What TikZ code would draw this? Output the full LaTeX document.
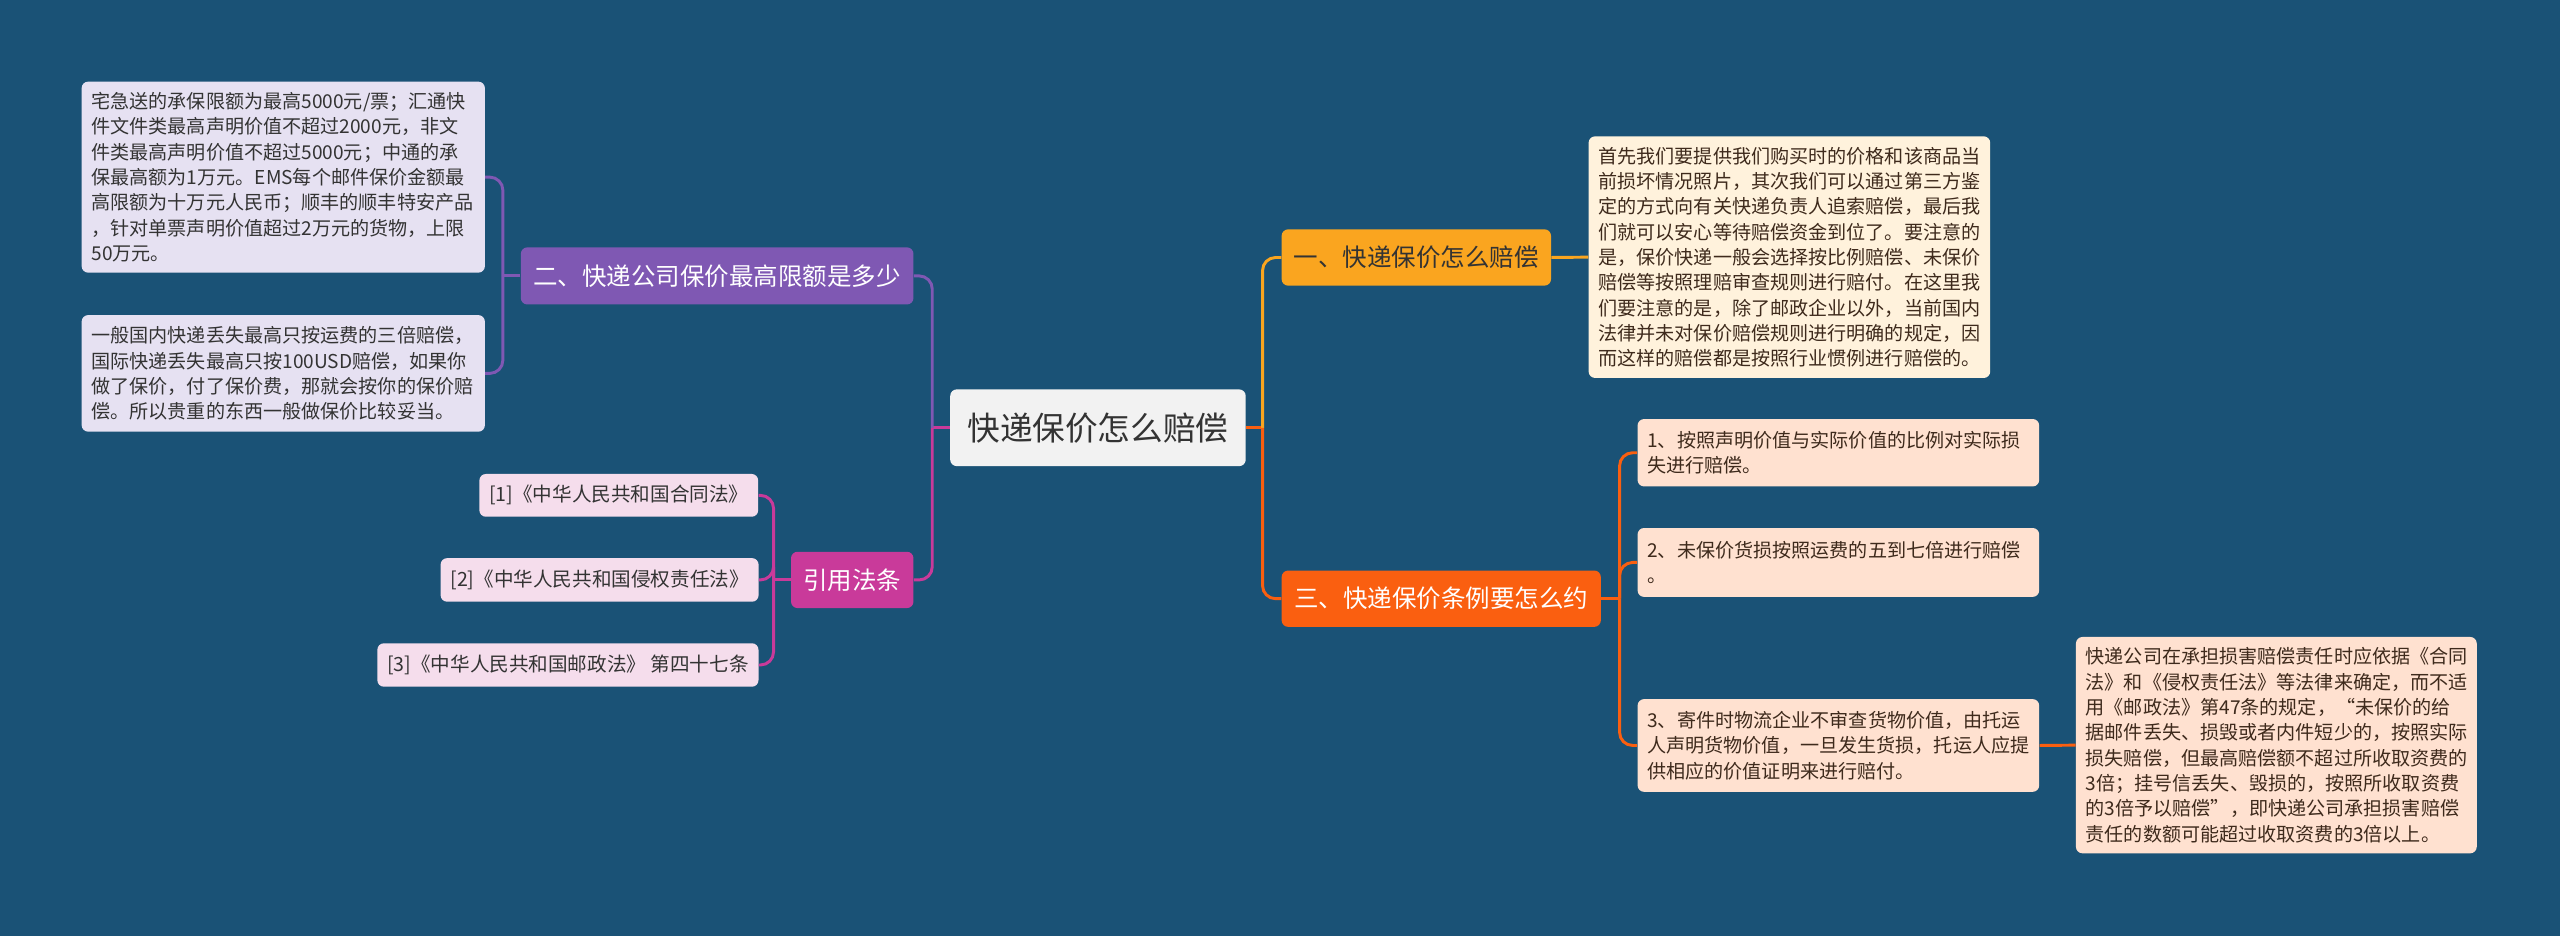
\documentclass[tikz,border=0pt]{standalone}
\usepackage{fontspec}
\setmainfont{Noto Sans CJK SC}
\definecolor{bg}{HTML}{1A5276}
\definecolor{rootfill}{HTML}{F2F2F2}
\definecolor{ora}{HTML}{FAA51F}
\definecolor{red}{HTML}{FA5F10}
\definecolor{pur}{HTML}{7F58B3}
\definecolor{mag}{HTML}{C93A9A}
\definecolor{cream}{HTML}{FFF2DC}
\definecolor{peach}{HTML}{FFE1D0}
\definecolor{lav}{HTML}{E6E1F2}
\definecolor{pink}{HTML}{F5DDEC}
\definecolor{ink}{HTML}{333333}
\definecolor{brown}{HTML}{3E2A1C}
\tikzset{
  box/.style={rounded corners=4pt, inner ysep=0pt, inner xsep=6pt, anchor=center},
  leaf/.style={box, align=left, font=\fontsize{11.7}{15.5}\selectfont},
  branch/.style={box, align=center, font=\fontsize{15}{18}\selectfont},
  cite/.style={box, align=center, fill=pink, text=ink, font=\fontsize{12}{15}\selectfont},
  conn/.style={line width=1.8pt, rounded corners=8pt},
}
\begin{document}
\begin{tikzpicture}[x=1pt,y=-1pt]
\fill[bg] (0,0) rectangle (1568,573.3);
\useasboundingbox (0,0) rectangle (1568,573.3);

% root and branches
\node[box, fill=rootfill, text=ink, font=\fontsize{20}{24}\selectfont, minimum width=181pt, minimum height=47pt] (root) at (672.5,262) {快递保价怎么赔偿};
\node[branch, fill=ora, text=ink, minimum width=165pt, minimum height=34.5pt] (b1) at (867.5,157.7) {一、快递保价怎么赔偿};
\node[branch, fill=red, text=white, minimum width=195.5pt, minimum height=34.5pt] (b3) at (882.75,366.7) {三、快递保价条例要怎么约};
\node[branch, fill=pur, text=white, minimum width=240.5pt, minimum height=35pt] (b2) at (439.25,169) {二、快递公司保价最高限额是多少};
\node[branch, fill=mag, text=white, minimum width=75pt, minimum height=34.5pt] (b4) at (522,355.2) {引用法条};

% leaves right
\node[leaf, fill=cream, text=brown, text width=234pt, minimum height=148pt] (l1) at (1096,157.5) {首先我们要提供我们购买时的价格和该商品当\\前损坏情况照片，其次我们可以通过第三方鉴\\定的方式向有关快递负责人追索赔偿，最后我\\们就可以安心等待赔偿资金到位了。要注意的\\是，保价快递一般会选择按比例赔偿、未保价\\赔偿等按照理赔审查规则进行赔付。在这里我\\们要注意的是，除了邮政企业以外，当前国内\\法律并未对保价赔偿规则进行明确的规定，因\\而这样的赔偿都是按照行业惯例进行赔偿的。};
\node[leaf, fill=peach, text=brown, text width=234pt, minimum height=41.3pt] (l3a) at (1126,277.3) {1、按照声明价值与实际价值的比例对实际损\\失进行赔偿。};
\node[leaf, fill=peach, text=brown, text width=234pt, minimum height=42.2pt] (l3b) at (1126,344.5) {2、未保价货损按照运费的五到七倍进行赔偿\\。};
\node[leaf, fill=peach, text=brown, text width=234pt, minimum height=56.8pt] (l3c) at (1126,456.6) {3、寄件时物流企业不审查货物价值，由托运\\人声明货物价值，一旦发生货损，托运人应提\\供相应的价值证明来进行赔付。};
\node[leaf, fill=peach, text=brown, text width=233.5pt, minimum height=132.5pt] (l3d) at (1394.25,456.4) {快递公司在承担损害赔偿责任时应依据《合同\\法》和《侵权责任法》等法律来确定，而不适\\用《邮政法》第47条的规定，“未保价的给\\据邮件丢失、损毁或者内件短少的，按照实际\\损失赔偿，但最高赔偿额不超过所收取资费的\\3倍；挂号信丢失、毁损的，按照所收取资费\\的3倍予以赔偿”，即快递公司承担损害赔偿\\责任的数额可能超过收取资费的3倍以上。};

% leaves left
\node[leaf, fill=lav, text=ink, text width=235pt, minimum height=117pt] (l2a) at (173.5,108.5) {宅急送的承保限额为最高5000元/票；汇通快\\件文件类最高声明价值不超过2000元，非文\\件类最高声明价值不超过5000元；中通的承\\保最高额为1万元。EMS每个邮件保价金额最\\高限额为十万元人民币；顺丰的顺丰特安产品\\，针对单票声明价值超过2万元的货物，上限\\50万元。};
\node[leaf, fill=lav, text=ink, text width=235pt, minimum height=71.4pt] (l2b) at (173.5,228.7) {一般国内快递丢失最高只按运费的三倍赔偿，\\国际快递丢失最高只按100USD赔偿，如果你\\做了保价，付了保价费，那就会按你的保价赔\\偿。所以贵重的东西一般做保价比较妥当。};
\node[cite, minimum width=167pt, minimum height=26.2pt] (l4a) at (379,303.4) {[1]《中华人民共和国合同法》};
\node[cite, minimum width=190.5pt, minimum height=26.7pt] (l4b) at (367.25,355.2) {[2]《中华人民共和国侵权责任法》};
\node[cite, minimum width=229.3pt, minimum height=26.6pt] (l4c) at (347.85,407.3) {[3]《中华人民共和国邮政法》 第四十七条};

% spine coordinates
\coordinate (rs) at (773.3,262);
\coordinate (ls) at (571,262);
\coordinate (s2) at (308,169);
\coordinate (s4) at (473.8,355.2);
\coordinate (s3) at (992,366.7);

% connectors
\draw[conn, red] (root.east) -- (rs);
\draw[conn, ora] (rs) |- (b1.west);
\draw[conn, red] (rs) |- (b3.west);
\draw[conn, mag] (root.west) -- (ls);
\draw[conn, pur] (ls) |- (b2.east);
\draw[conn, mag] (ls) |- (b4.east);
\draw[conn, ora] (b1.east) -- (l1.west);
\draw[conn, red] (b3.east) -- (s3);
\draw[conn, red] (s3) |- (l3a.west);
\draw[conn, red] (s3) |- (l3b.west);
\draw[conn, red] (s3) |- (l3c.west);
\draw[conn, red] (l3c.east) -- (l3d.west);
\draw[conn, pur] (b2.west) -- (s2);
\draw[conn, pur] (s2) |- (l2a.east);
\draw[conn, pur] (s2) |- (l2b.east);
\draw[conn, mag] (b4.west) -- (s4);
\draw[conn, mag] (s4) |- (l4a.east);
\draw[conn, mag] (s4) |- (l4b.east);
\draw[conn, mag] (s4) |- (l4c.east);
\end{tikzpicture}
\end{document}
